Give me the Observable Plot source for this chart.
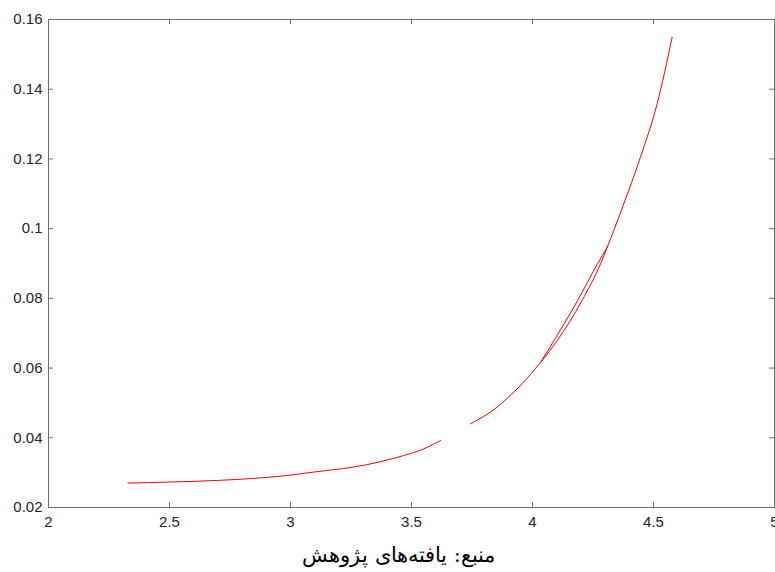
<!DOCTYPE html>
<html>
<head>
<meta charset="utf-8">
<script src="https://cdn.jsdelivr.net/npm/d3@7"></script>
<script src="https://cdn.jsdelivr.net/npm/@observablehq/plot@0.6"></script>
<style>
  body { margin: 0; background: #fff; }
  #caption { box-sizing: border-box; width: 775px; padding-left: 22px; text-align: center; font-family: "DejaVu Serif", "Liberation Serif", serif; font-size: 21px; line-height: 30px; color: #000; direction: rtl; }
</style>
</head>
<body>
<div id="chart"></div>
<div id="caption">منبع: یافته‌های پژوهش</div>
<script>
// Lower branch (before the gap)
const xLow = [2.328, 2.5, 2.711, 2.988, 3.1, 3.26, 3.37, 3.467, 3.55, 3.62];
const yLow = [0.0270, 0.0273, 0.0278, 0.0292, 0.0302, 0.0316, 0.0331, 0.0349, 0.0368, 0.0392];
// Upper branch (after the gap), curved path
const xHigh = [3.744, 3.854, 3.9, 3.95, 4.033, 4.102, 4.205, 4.281, 4.309, 4.37, 4.446, 4.515, 4.577];
const yHigh = [0.0440, 0.0488, 0.0516, 0.0550, 0.0616, 0.0679, 0.0794, 0.0899, 0.0947, 0.1058, 0.1205, 0.1358, 0.1549];
// Near-straight second path between 4.03 and 4.31
const xChord = [4.033, 4.081, 4.185, 4.267, 4.309];
const yChord = [0.0616, 0.0670, 0.0792, 0.0897, 0.0947];

const xTicks = [2, 2.5, 3, 3.5, 4, 4.5, 5];
const yTicks = [0.02, 0.04, 0.06, 0.08, 0.1, 0.12, 0.14, 0.16];

const rows = [
  ...xLow.map((x, i) => ({x, y: yLow[i], seg: "low"})),
  ...xHigh.map((x, i) => ({x, y: yHigh[i], seg: "high"})),
  ...xChord.map((x, i) => ({x, y: yChord[i], seg: "chord"}))
];

const W = 775, H = 540, mt = 19, mb = 33, ml = 48, mr = 1;
const ph = H - mt - mb;
const tickLen = 5;
const axisColor = "#6e6e6e";
const textColor = "#262626";

const chart = Plot.plot({
  width: W,
  height: H,
  marginTop: mt,
  marginBottom: mb,
  marginLeft: ml,
  marginRight: mr,
  style: {fontFamily: "'Liberation Sans', Arial, sans-serif", fontSize: "15px", color: textColor, background: "#fff", overflow: "visible"},
  x: {domain: [2, 5]},
  y: {domain: [0.02, 0.16]},
  marks: [
    Plot.tickX(xTicks, {x: d => d, insetTop: ph - tickLen, stroke: axisColor}),
    Plot.tickX(xTicks, {x: d => d, insetBottom: ph - tickLen, stroke: axisColor}),
    Plot.tickY(yTicks, {y: d => d, insetRight: (W - ml - mr) - tickLen, stroke: axisColor}),
    Plot.tickY(yTicks, {y: d => d, insetLeft: (W - ml - mr) - tickLen, stroke: axisColor}),
    Plot.axisX({ticks: xTicks, tickSize: 0, tickPadding: 9, tickFormat: d => String(d), fill: textColor, label: null}),
    Plot.axisY({ticks: yTicks, tickSize: 0, tickPadding: 6, tickFormat: d => String(d), fill: textColor, label: null}),
    Plot.line(rows, {x: "x", y: "y", z: "seg", stroke: "#ff0000", strokeWidth: 1, curve: "monotone-x"}),
    Plot.frame({stroke: axisColor})
  ]
});
document.getElementById("chart").appendChild(chart);
</script>
</body>
</html>
